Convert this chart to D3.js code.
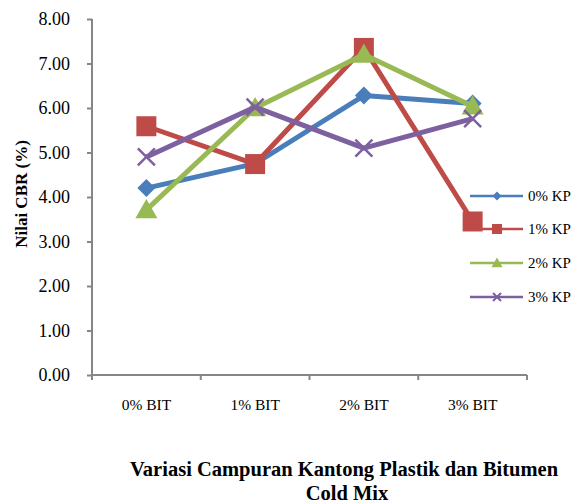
<!DOCTYPE html>
<html>
<head>
<meta charset="utf-8">
<script src="https://cdn.jsdelivr.net/npm/d3@7"></script>
<style>
  body { margin: 0; background: #fff; }
  svg text { font-family: "Liberation Serif", "Times New Roman", Times, "DejaVu Serif", serif; fill: #000; }
</style>
</head>
<body>
<div id="canvas"></div>
<script>
"use strict"

// DATA

let categories = ["0% BIT", "1% BIT", "2% BIT", "3% BIT"];
let seriesNames = ["0% KP", "1% KP", "2% KP", "3% KP"];
let kp0 = [4.20, 4.75, 6.28, 6.10];
let kp1 = [5.59, 4.74, 7.35, 3.45];
let kp2 = [3.71, 6.00, 7.20, 6.04];
let kp3 = [4.90, 6.02, 5.10, 5.76];
let yTicks = [0, 1, 2, 3, 4, 5, 6, 7, 8];

// CONFIGURATION

let svgWidth = 575;
let svgHeight = 503;
let plotLeft = 92, plotRight = 527, plotTop = 19, plotBottom = 375;
let colors = ["#4a7ebb", "#be4b48", "#98b954", "#7d60a0"];

let series = [kp0, kp1, kp2, kp3].map(function(v, i) {
    return { name: seriesNames[i], values: v, color: colors[i], idx: i };
});

// marker shapes, r = half size
function markerPath(idx, r) {
    if (idx === 0) return "M0," + (-r) + "L" + r + ",0L0," + r + "L" + (-r) + ",0Z";
    if (idx === 1) return "M" + (-r) + "," + (-r) + "H" + r + "V" + r + "H" + (-r) + "Z";
    if (idx === 2) return "M0," + (-r) + "L" + r + "," + (r * 0.75) + "H" + (-r) + "Z";
    return "M" + (-r) + "," + (-r) + "L" + r + "," + r + "M" + r + "," + (-r) + "L" + (-r) + "," + r;
}

let svg = d3.select("#canvas")
    .append("svg")
    .attr("width", svgWidth)
    .attr("height", svgHeight);

// SCALES

let xScale = d3.scaleBand()
    .domain(categories)
    .range([plotLeft, plotRight]);

let yScale = d3.scaleLinear()
    .domain([0, 8])
    .range([plotBottom, plotTop]);

// AXES

let yAxis = svg.append("g")
    .attr("transform", "translate(" + plotLeft + ",0)")
    .call(d3.axisLeft(yScale).tickValues(yTicks).tickSize(5).tickPadding(17)
        .tickFormat(d3.format(".2f")));

let xAxis = svg.append("g")
    .attr("transform", "translate(0," + plotBottom + ")")
    .call(d3.axisBottom(xScale).tickSize(0).tickPadding(24));

yAxis.attr("font-family", null).attr("font-size", 18);
xAxis.attr("font-family", null).attr("font-size", 15.5);

// category boundary ticks
svg.selectAll("line.xtick")
    .data(categories.concat([null]))
    .join("line")
    .attr("class", "xtick")
    .attr("x1", function(d, i) { return plotLeft + i * xScale.bandwidth(); })
    .attr("x2", function(d, i) { return plotLeft + i * xScale.bandwidth(); })
    .attr("y1", plotBottom)
    .attr("y2", plotBottom + 5)
    .attr("stroke", "#868686")
    .attr("stroke-width", 2);

[yAxis, xAxis].forEach(function(a) {
    a.select(".domain").attr("stroke", "#868686").attr("stroke-width", 2);
    a.selectAll(".tick line").attr("stroke", "#868686").attr("stroke-width", 2);
});
yAxis.select(".domain").attr("d", "M0," + plotTop + "V" + plotBottom);
xAxis.select(".domain").attr("d", "M" + plotLeft + ",0H" + plotRight);

// LINES

let line = d3.line()
    .x(function(d, i) { return xScale(categories[i]) + xScale.bandwidth() / 2; })
    .y(function(d) { return yScale(d); });

let markerR = [9, 10, 11, 8.5];

series.forEach(function(s) {
    let g = svg.append("g");
    g.append("path")
        .attr("d", line(s.values))
        .attr("fill", "none")
        .attr("stroke", s.color)
        .attr("stroke-width", 5)
        .attr("stroke-linejoin", "round");

    g.selectAll("path.mk")
        .data(s.values)
        .join("path")
        .attr("class", "mk")
        .attr("transform", function(d, i) {
            let x = xScale(categories[i]) + xScale.bandwidth() / 2;
            return "translate(" + x + "," + yScale(d) + ")";
        })
        .attr("d", markerPath(s.idx, markerR[s.idx]))
        .attr("fill", s.idx === 3 ? "none" : s.color)
        .attr("stroke", s.color)
        .attr("stroke-width", s.idx === 3 ? 2.5 : 0);
});

// LEGEND

let legendX = 470;
let legendY = [196, 229, 263, 297];
let legendR = [4.5, 5, 5.5, 4];

series.forEach(function(s, i) {
    let g = svg.append("g")
        .attr("transform", "translate(" + legendX + "," + legendY[i] + ")");
    g.append("line")
        .attr("x1", 0).attr("x2", 53)
        .attr("y1", 0).attr("y2", 0)
        .attr("stroke", s.color)
        .attr("stroke-width", 2.5);
    g.append("path")
        .attr("transform", "translate(27,0)")
        .attr("d", markerPath(i, legendR[i]))
        .attr("fill", i === 3 ? "none" : s.color)
        .attr("stroke", s.color)
        .attr("stroke-width", i === 3 ? 2 : 0);
    g.append("text")
        .attr("x", 58)
        .attr("y", 5)
        .attr("font-size", 15)
        .text(s.name);
});

// AXIS TITLES

svg.append("text")
    .attr("transform", "rotate(-90)")
    .attr("x", -194)
    .attr("y", 27)
    .attr("text-anchor", "middle")
    .attr("font-weight", "bold")
    .attr("font-size", 17)
    .text("Nilai CBR (%)");

svg.append("text")
    .attr("x", 344)
    .attr("y", 476)
    .attr("text-anchor", "middle")
    .attr("font-weight", "bold")
    .attr("font-size", 20.5)
    .text("Variasi Campuran Kantong Plastik dan Bitumen");

svg.append("text")
    .attr("x", 347)
    .attr("y", 500)
    .attr("text-anchor", "middle")
    .attr("font-weight", "bold")
    .attr("font-size", 20.5)
    .text("Cold Mix");
</script>
</body>
</html>
